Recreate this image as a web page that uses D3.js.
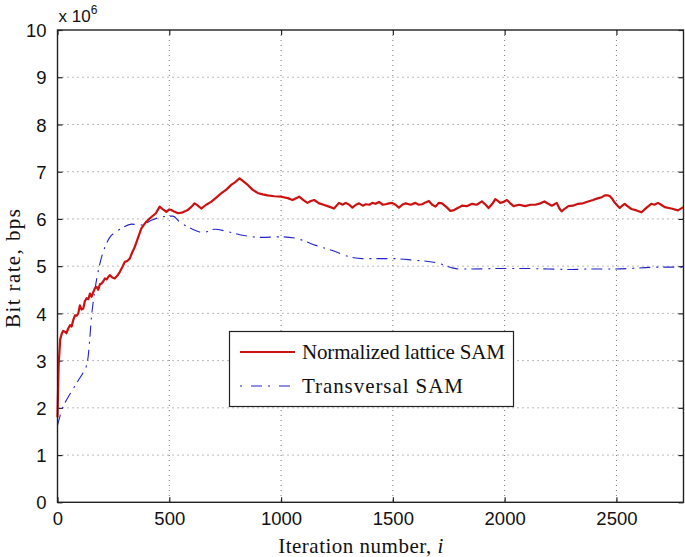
<!DOCTYPE html>
<html><head><meta charset="utf-8">
<script src="https://cdn.jsdelivr.net/npm/d3@7"></script>
<style>body{margin:0;background:#fff}svg{display:block}</style>
</head><body>
<svg id="c" width="685" height="557"></svg>
<script>
const xTicks = [0,500,1000,1500,2000,2500];
const yTicks = [0,1,2,3,4,5,6,7,8,9,10];
const seriesNames = ["Normalized lattice SAM","Transversal SAM"];
const xLabel = "Iteration number, ";
const yLabel = "Bit rate, bps";
// values in units of 1e6 bps
const latticeSAM = [[0,1.8],[5,2.9],[12,3.45],[19,3.57],[25,3.63],[33,3.61],[40,3.58],[48,3.68],[56,3.75],[63,3.72],[70,3.85],[78,3.96],[86,3.95],[93,4.0],[100,4.17],[108,4.08],[115,4.1],[122,4.25],[130,4.32],[138,4.3],[145,4.42],[152,4.35],[160,4.45],[167,4.53],[175,4.56],[182,4.5],[190,4.62],[197,4.63],[205,4.68],[212,4.74],[220,4.72],[227,4.77],[234,4.81],[245,4.76],[256,4.74],[268,4.8],[279,4.88],[290,4.98],[301,5.09],[312,5.11],[323,5.16],[335,5.3],[345,5.4],[360,5.6],[375,5.8],[387,5.88],[397,5.94],[410,6.0],[420,6.04],[440,6.12],[457,6.26],[472,6.2],[487,6.15],[500,6.2],[509,6.19],[524,6.15],[539,6.12],[560,6.14],[583,6.19],[600,6.26],[613,6.33],[628,6.28],[643,6.22],[665,6.3],[687,6.36],[710,6.45],[732,6.54],[755,6.62],[777,6.72],[795,6.78],[814,6.86],[830,6.8],[851,6.72],[872,6.62],[895,6.55],[918,6.52],[940,6.5],[970,6.48],[1000,6.47],[1030,6.44],[1051,6.40],[1081,6.47],[1100,6.4],[1118,6.34],[1133,6.38],[1148,6.40],[1170,6.33],[1190,6.3],[1215,6.26],[1237,6.22],[1259,6.34],[1275,6.3],[1289,6.34],[1305,6.3],[1319,6.24],[1335,6.3],[1349,6.33],[1365,6.28],[1379,6.31],[1395,6.3],[1408,6.34],[1423,6.32],[1438,6.36],[1455,6.3],[1468,6.31],[1483,6.33],[1497,6.34],[1512,6.3],[1527,6.24],[1542,6.3],[1557,6.33],[1580,6.3],[1601,6.34],[1616,6.3],[1631,6.31],[1646,6.35],[1661,6.38],[1676,6.3],[1691,6.26],[1705,6.34],[1720,6.33],[1740,6.25],[1757,6.17],[1770,6.18],[1794,6.24],[1809,6.28],[1830,6.27],[1854,6.32],[1875,6.3],[1898,6.37],[1915,6.3],[1928,6.23],[1945,6.32],[1958,6.42],[1970,6.38],[1980,6.34],[1995,6.36],[2010,6.40],[2025,6.33],[2040,6.27],[2065,6.3],[2092,6.27],[2115,6.3],[2137,6.30],[2160,6.33],[2178,6.37],[2195,6.32],[2211,6.28],[2233,6.34],[2245,6.22],[2255,6.16],[2270,6.22],[2285,6.27],[2305,6.28],[2329,6.32],[2350,6.33],[2374,6.37],[2395,6.4],[2419,6.44],[2435,6.46],[2448,6.50],[2460,6.5],[2471,6.48],[2482,6.42],[2493,6.34],[2505,6.28],[2515,6.23],[2526,6.28],[2537,6.32],[2552,6.26],[2567,6.21],[2590,6.18],[2612,6.14],[2635,6.24],[2656,6.32],[2670,6.3],[2686,6.34],[2700,6.3],[2716,6.25],[2745,6.22],[2775,6.18],[2800,6.25]];
const transversalSAM = [[0,1.63],[19,1.95],[48,2.23],[70,2.4],[93,2.58],[115,2.75],[130,2.9],[137,3.08],[145,3.5],[152,3.93],[160,4.25],[167,4.49],[178,4.8],[190,5.06],[204,5.3],[219,5.48],[234,5.61],[260,5.72],[286,5.8],[331,5.89],[375,5.87],[420,5.97],[464,6.04],[516,6.06],[546,5.94],[583,5.83],[620,5.75],[650,5.71],[702,5.78],[762,5.73],[821,5.66],[910,5.61],[1000,5.62],[1066,5.59],[1110,5.52],[1156,5.44],[1230,5.33],[1304,5.2],[1363,5.16],[1497,5.16],[1586,5.13],[1705,5.06],[1760,4.97],[1794,4.94],[1854,4.94],[1988,4.95],[2092,4.95],[2196,4.94],[2300,4.93],[2389,4.94],[2493,4.94],[2597,4.96],[2686,4.98],[2800,4.98]];

const L=57.5, R=683.5, T=30, B=502.3;
const svg = d3.select("#c");
const x = d3.scaleLinear().domain([0,2800]).range([L,R]);
const y = d3.scaleLinear().domain([0,10]).range([B,T]);
const sans = "'Liberation Sans', Arial, sans-serif";
const serif = "'Liberation Serif', 'Times New Roman', serif";

// grid
const g = svg.append("g");
g.selectAll(".vg").data(xTicks.filter(d=>d>0)).enter().append("line")
  .attr("x1",d=>x(d)).attr("x2",d=>x(d)).attr("y1",T).attr("y2",B)
  .attr("stroke","#777").attr("stroke-width",1).attr("stroke-dasharray","1,4");
g.selectAll(".hg").data(yTicks.filter(d=>d>0&&d<10)).enter().append("line")
  .attr("x1",L).attr("x2",R).attr("y1",d=>y(d)).attr("y2",d=>y(d))
  .attr("stroke","#777").attr("stroke-width",1).attr("stroke-dasharray","1,4");

// axes (ticks inward, all sides)
const tl = 5;
const axB = svg.append("g").attr("transform",`translate(0,${B})`)
  .call(d3.axisBottom(x).tickValues(xTicks).tickSize(-tl).tickPadding(10).tickFormat(d3.format("d")));
const axT = svg.append("g").attr("transform",`translate(0,${T})`)
  .call(d3.axisTop(x).tickValues(xTicks).tickSize(-tl).tickFormat(""));
const axL = svg.append("g").attr("transform",`translate(${L},0)`)
  .call(d3.axisLeft(y).tickValues(yTicks).tickSize(-tl).tickPadding(11).tickFormat(d3.format("d")));
const axR = svg.append("g").attr("transform",`translate(${R},0)`)
  .call(d3.axisRight(y).tickValues(yTicks).tickSize(-tl).tickFormat(""));
[axB,axT,axL,axR].forEach(a=>{
  a.select(".domain").remove();
  a.selectAll("line").attr("stroke","#222").attr("stroke-width",1.2);
  a.selectAll("text").attr("font-family",sans).attr("font-size",18.5).attr("fill","#111");
});
axB.selectAll("text").attr("dy","0.71em");
axL.selectAll("text").attr("dy","0.36em");

// lines
const line = d3.line().x(d=>x(d[0])).y(d=>y(d[1]));
svg.append("path").datum(transversalSAM).attr("d",line.curve(d3.curveMonotoneX))
  .attr("fill","none").attr("stroke","#2323c8").attr("stroke-width",1.1)
  .attr("stroke-dasharray","11,6,2,5");
svg.append("path").datum(latticeSAM).attr("d",d3.line().x(d=>x(d[0])).y(d=>y(d[1])))
  .attr("fill","none").attr("stroke","#cc1111").attr("stroke-width",2.2).attr("stroke-linejoin","round");

// frame
svg.append("rect").attr("x",L).attr("y",T).attr("width",R-L).attr("height",B-T)
  .attr("fill","none").attr("stroke","#222").attr("stroke-width",1.4);

// exponent label
const ex = svg.append("text").attr("x",L+1).attr("y",21.5).attr("font-family",sans).attr("font-size",17).attr("fill","#111");
ex.append("tspan").text("x 10");
ex.append("tspan").attr("font-size",12).attr("dy",-8).text("6");

// axis labels
const xl = svg.append("text").attr("x",361).attr("y",552.5).attr("text-anchor","middle")
  .attr("font-family",serif).attr("font-size",21).attr("letter-spacing",0.5).attr("fill","#111");
xl.append("tspan").text(xLabel);
xl.append("tspan").attr("font-style","italic").text("i");
svg.append("text").attr("transform","translate(19.5,328) rotate(-90)").attr("text-anchor","start")
  .attr("font-family",serif).attr("font-size",21).attr("letter-spacing",1.4).attr("fill","#111").text(yLabel);

// legend
const lg = svg.append("g");
lg.append("rect").attr("x",229.5).attr("y",331.5).attr("width",284).attr("height",75)
  .attr("fill","#fff").attr("stroke","#222").attr("stroke-width",1.2);
const items = [{name:seriesNames[0],c:"#cc1111",w:2.2,da:null,len:203},{name:seriesNames[1],c:"#2323c8",w:1.1,da:"2,9,11,6",len:161}];
items.forEach((it,k)=>{
  const yy = 352 + k*34;
  lg.append("line").attr("x1",240).attr("x2",295).attr("y1",yy).attr("y2",yy)
    .attr("stroke",it.c).attr("stroke-width",it.w).attr("stroke-dasharray",it.da);
  lg.append("text").attr("x",302).attr("y",yy+7).attr("font-family",serif).attr("font-size",21)
    .attr("textLength",it.len).attr("lengthAdjust","spacing")
    .attr("fill","#111").text(it.name);
});
</script>
</body></html>
